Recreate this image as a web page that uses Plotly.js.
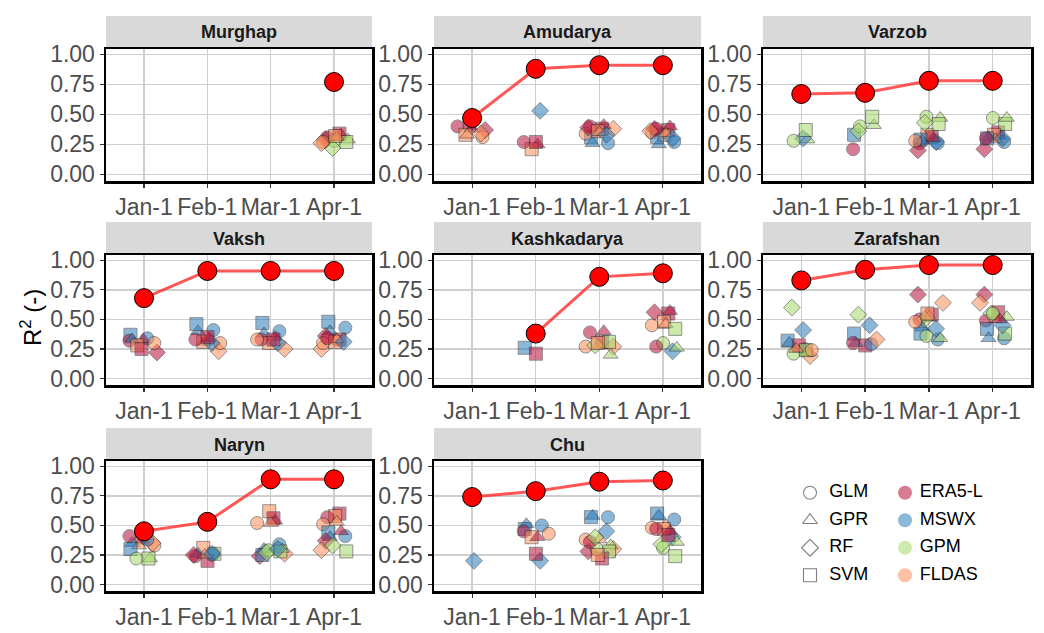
<!DOCTYPE html>
<html>
<head>
<meta charset="utf-8">
<script src="https://cdn.plot.ly/plotly-3.0.1.min.js"></script>
<style>html,body{margin:0;padding:0;background:#fff;}#chart{width:1044px;height:633px;}</style>
</head>
<body>
<div id="chart"></div>
<script>
// ---------------- DATA ----------------
const months = ["Jan-1", "Feb-1", "Mar-1", "Apr-1"];
const models = ["GLM", "GPR", "RF", "SVM"];
const products = ["ERA5-L", "MSWX", "GPM", "FLDAS"];
const basins = ["Murghap", "Amudarya", "Varzob", "Vaksh", "Kashkadarya", "Zarafshan", "Naryn", "Chu"];

// best R2 per month (red line)
const best_Murghap     = [null, null, null, 0.77];
const best_Amudarya    = [0.47, 0.88, 0.91, 0.91];
const best_Varzob      = [0.67, 0.68, 0.78, 0.78];
const best_Vaksh       = [0.68, 0.91, 0.91, 0.91];
const best_Kashkadarya = [null, 0.38, 0.86, 0.89];
const best_Zarafshan   = [0.83, 0.92, 0.96, 0.96];
const best_Naryn       = [0.45, 0.53, 0.89, 0.89];
const best_Chu         = [0.74, 0.79, 0.87, 0.88];

// individual model/product results: [month, model, product, R2]
const pts_Murghap = [
  ["Apr-1","GLM","ERA5-L",0.31],["Apr-1","SVM","ERA5-L",0.34],["Apr-1","GPR","ERA5-L",0.33],["Apr-1","RF","ERA5-L",0.29],
  ["Apr-1","GLM","GPM",0.28],["Apr-1","RF","GPM",0.22],["Apr-1","GPR","GPM",0.29],["Apr-1","SVM","GPM",0.27],
  ["Apr-1","GLM","FLDAS",0.27],["Apr-1","GPR","FLDAS",0.31],["Apr-1","RF","FLDAS",0.26],["Apr-1","SVM","FLDAS",0.32]
];
const pts_Amudarya = [
  ["Jan-1","GPR","ERA5-L",0.38],["Jan-1","GLM","ERA5-L",0.40],["Jan-1","SVM","ERA5-L",0.43],["Jan-1","RF","ERA5-L",0.37],
  ["Jan-1","SVM","FLDAS",0.33],["Jan-1","GLM","FLDAS",0.31],["Jan-1","GPR","FLDAS",0.33],["Jan-1","RF","FLDAS",0.34],
  ["Feb-1","RF","MSWX",0.53],["Feb-1","GPR","ERA5-L",0.25],["Feb-1","SVM","FLDAS",0.21],["Feb-1","GLM","ERA5-L",0.27],["Feb-1","SVM","ERA5-L",0.27],
  ["Mar-1","SVM","ERA5-L",0.38],["Mar-1","SVM","MSWX",0.31],["Mar-1","GLM","MSWX",0.26],["Mar-1","GPR","MSWX",0.26],
  ["Mar-1","GLM","FLDAS",0.34],["Mar-1","RF","FLDAS",0.38],["Mar-1","GLM","ERA5-L",0.40],["Mar-1","GPR","ERA5-L",0.41],
  ["Mar-1","RF","ERA5-L",0.39],["Mar-1","SVM","FLDAS",0.36],["Mar-1","GPR","FLDAS",0.35],["Mar-1","RF","MSWX",0.33],
  ["Apr-1","SVM","ERA5-L",0.37],["Apr-1","GLM","FLDAS",0.35],["Apr-1","SVM","FLDAS",0.33],["Apr-1","GPR","MSWX",0.25],
  ["Apr-1","GLM","MSWX",0.27],["Apr-1","SVM","MSWX",0.31],["Apr-1","RF","ERA5-L",0.38],["Apr-1","GPR","ERA5-L",0.40],
  ["Apr-1","GLM","ERA5-L",0.38],["Apr-1","RF","FLDAS",0.36],["Apr-1","GPR","FLDAS",0.34],["Apr-1","RF","MSWX",0.30]
];
const pts_Varzob = [
  ["Jan-1","GPR","GPM",0.29],["Jan-1","RF","MSWX",0.30],["Jan-1","GLM","GPM",0.28],["Jan-1","SVM","GPM",0.37],
  ["Feb-1","SVM","MSWX",0.33],["Feb-1","GLM","ERA5-L",0.21],["Feb-1","GPR","GPM",0.41],["Feb-1","GLM","GPM",0.40],
  ["Feb-1","SVM","GPM",0.48],["Feb-1","RF","GPM",0.36],
  ["Mar-1","GLM","ERA5-L",0.26],["Mar-1","RF","ERA5-L",0.20],["Mar-1","SVM","FLDAS",0.33],["Mar-1","SVM","ERA5-L",0.31],
  ["Mar-1","SVM","MSWX",0.29],["Mar-1","GLM","MSWX",0.26],["Mar-1","GPR","MSWX",0.28],["Mar-1","GLM","FLDAS",0.28],
  ["Mar-1","GPR","GPM",0.47],["Mar-1","GLM","GPM",0.48],["Mar-1","SVM","GPM",0.42],["Mar-1","RF","GPM",0.43],
  ["Mar-1","RF","MSWX",0.27],["Mar-1","GPR","ERA5-L",0.30],
  ["Apr-1","SVM","ERA5-L",0.35],["Apr-1","GPR","ERA5-L",0.32],["Apr-1","SVM","GPM",0.42],["Apr-1","GPR","GPM",0.47],
  ["Apr-1","GLM","GPM",0.47],["Apr-1","SVM","FLDAS",0.33],["Apr-1","GLM","MSWX",0.27],["Apr-1","GPR","MSWX",0.31],
  ["Apr-1","RF","ERA5-L",0.21],["Apr-1","GPR","FLDAS",0.29],["Apr-1","RF","MSWX",0.30],["Apr-1","SVM","MSWX",0.30],
  ["Apr-1","GLM","ERA5-L",0.30]
];
const pts_Vaksh = [
  ["Jan-1","SVM","MSWX",0.37],["Jan-1","GLM","MSWX",0.34],["Jan-1","GPR","ERA5-L",0.33],["Jan-1","GLM","ERA5-L",0.32],
  ["Jan-1","GPR","MSWX",0.33],["Jan-1","SVM","FLDAS",0.28],["Jan-1","RF","ERA5-L",0.22],["Jan-1","SVM","ERA5-L",0.25],
  ["Jan-1","GLM","FLDAS",0.30],
  ["Feb-1","GPR","MSWX",0.40],["Feb-1","SVM","MSWX",0.46],["Feb-1","GLM","MSWX",0.41],["Feb-1","RF","FLDAS",0.23],
  ["Feb-1","GLM","FLDAS",0.30],["Feb-1","GPR","FLDAS",0.31],["Feb-1","SVM","FLDAS",0.31],["Feb-1","GPR","ERA5-L",0.34],
  ["Feb-1","RF","MSWX",0.30],["Feb-1","SVM","ERA5-L",0.35],["Feb-1","GLM","ERA5-L",0.33],
  ["Mar-1","SVM","MSWX",0.47],["Mar-1","GLM","MSWX",0.40],["Mar-1","GPR","MSWX",0.38],["Mar-1","GPR","ERA5-L",0.35],
  ["Mar-1","SVM","FLDAS",0.30],["Mar-1","RF","FLDAS",0.25],["Mar-1","RF","MSWX",0.30],["Mar-1","GLM","ERA5-L",0.33],
  ["Mar-1","SVM","ERA5-L",0.33],["Mar-1","GLM","FLDAS",0.33],
  ["Apr-1","SVM","MSWX",0.48],["Apr-1","GLM","MSWX",0.43],["Apr-1","GPR","MSWX",0.40],["Apr-1","RF","ERA5-L",0.36],
  ["Apr-1","SVM","ERA5-L",0.33],["Apr-1","RF","FLDAS",0.25],["Apr-1","GLM","FLDAS",0.30],["Apr-1","SVM","FLDAS",0.31],
  ["Apr-1","GPR","FLDAS",0.33],["Apr-1","RF","MSWX",0.31],["Apr-1","GLM","ERA5-L",0.34]
];
const pts_Kashkadarya = [
  ["Feb-1","SVM","MSWX",0.26],["Feb-1","SVM","ERA5-L",0.21],
  ["Mar-1","GPR","ERA5-L",0.40],["Mar-1","GLM","ERA5-L",0.39],["Mar-1","SVM","ERA5-L",0.31],["Mar-1","GPR","FLDAS",0.28],
  ["Mar-1","RF","FLDAS",0.27],["Mar-1","GLM","FLDAS",0.27],["Mar-1","SVM","GPM",0.31],["Mar-1","GPR","GPM",0.20],
  ["Mar-1","RF","GPM",0.28],["Mar-1","SVM","FLDAS",0.30],
  ["Apr-1","SVM","ERA5-L",0.55],["Apr-1","GPR","ERA5-L",0.57],["Apr-1","RF","ERA5-L",0.56],["Apr-1","GLM","FLDAS",0.45],
  ["Apr-1","SVM","FLDAS",0.48],["Apr-1","GPR","FLDAS",0.46],["Apr-1","GLM","GPM",0.30],["Apr-1","RF","MSWX",0.23],
  ["Apr-1","SVM","GPM",0.42],["Apr-1","GLM","ERA5-L",0.27],["Apr-1","GPR","GPM",0.26]
];
const pts_Zarafshan = [
  ["Jan-1","RF","GPM",0.60],["Jan-1","RF","MSWX",0.41],["Jan-1","SVM","MSWX",0.32],["Jan-1","GPR","MSWX",0.30],
  ["Jan-1","GLM","GPM",0.21],["Jan-1","GLM","MSWX",0.25],["Jan-1","SVM","ERA5-L",0.28],["Jan-1","RF","FLDAS",0.19],
  ["Jan-1","GPR","GPM",0.22],["Jan-1","SVM","GPM",0.24],["Jan-1","GLM","FLDAS",0.24],["Jan-1","GPR","FLDAS",0.25],
  ["Feb-1","RF","GPM",0.54],["Feb-1","RF","MSWX",0.45],["Feb-1","SVM","MSWX",0.38],["Feb-1","SVM","ERA5-L",0.28],
  ["Feb-1","GLM","MSWX",0.29],["Feb-1","GPR","MSWX",0.30],["Feb-1","RF","FLDAS",0.33],["Feb-1","GLM","ERA5-L",0.30],
  ["Mar-1","RF","ERA5-L",0.71],["Mar-1","RF","FLDAS",0.64],["Mar-1","SVM","ERA5-L",0.54],["Mar-1","GLM","ERA5-L",0.50],
  ["Mar-1","GPR","FLDAS",0.52],["Mar-1","RF","GPM",0.50],["Mar-1","GPR","MSWX",0.43],["Mar-1","SVM","MSWX",0.38],
  ["Mar-1","GLM","MSWX",0.33],["Mar-1","GPR","GPM",0.34],["Mar-1","GLM","GPM",0.36],["Mar-1","GLM","FLDAS",0.48],
  ["Mar-1","SVM","FLDAS",0.55],["Mar-1","RF","MSWX",0.42],
  ["Apr-1","RF","ERA5-L",0.71],["Apr-1","RF","FLDAS",0.64],["Apr-1","SVM","ERA5-L",0.56],["Apr-1","GLM","ERA5-L",0.49],
  ["Apr-1","GPR","FLDAS",0.50],["Apr-1","RF","GPM",0.55],["Apr-1","GLM","GPM",0.55],["Apr-1","GPR","GPM",0.52],
  ["Apr-1","SVM","MSWX",0.42],["Apr-1","GPR","MSWX",0.34],["Apr-1","GLM","MSWX",0.34],["Apr-1","SVM","GPM",0.38],
  ["Apr-1","RF","MSWX",0.45],["Apr-1","GPR","ERA5-L",0.50]
];
const pts_Naryn = [
  ["Jan-1","GPR","ERA5-L",0.37],["Jan-1","GPR","MSWX",0.35],["Jan-1","GLM","ERA5-L",0.41],["Jan-1","SVM","ERA5-L",0.41],
  ["Jan-1","GLM","FLDAS",0.33],["Jan-1","GPR","FLDAS",0.33],["Jan-1","SVM","MSWX",0.30],["Jan-1","RF","FLDAS",0.35],
  ["Jan-1","GPR","GPM",0.22],["Jan-1","GLM","GPM",0.22],["Jan-1","SVM","GPM",0.22],["Jan-1","GLM","MSWX",0.38],
  ["Feb-1","SVM","FLDAS",0.31],["Feb-1","SVM","GPM",0.26],["Feb-1","GLM","ERA5-L",0.24],["Feb-1","SVM","ERA5-L",0.20],
  ["Feb-1","GLM","MSWX",0.26],["Feb-1","GPR","MSWX",0.26],["Feb-1","GPR","FLDAS",0.25],["Feb-1","RF","ERA5-L",0.25],
  ["Feb-1","RF","MSWX",0.26],
  ["Mar-1","SVM","FLDAS",0.62],["Mar-1","SVM","ERA5-L",0.56],["Mar-1","GPR","ERA5-L",0.54],["Mar-1","GLM","FLDAS",0.52],
  ["Mar-1","GPR","FLDAS",0.52],["Mar-1","GLM","MSWX",0.34],["Mar-1","GPR","MSWX",0.30],["Mar-1","RF","ERA5-L",0.24],
  ["Mar-1","SVM","MSWX",0.25],["Mar-1","RF","FLDAS",0.26],["Mar-1","GLM","GPM",0.29],["Mar-1","GPR","GPM",0.30],
  ["Mar-1","RF","GPM",0.27],["Mar-1","SVM","GPM",0.28],["Mar-1","RF","MSWX",0.30],
  ["Apr-1","SVM","ERA5-L",0.60],["Apr-1","SVM","FLDAS",0.58],["Apr-1","GLM","ERA5-L",0.57],["Apr-1","GPR","FLDAS",0.53],
  ["Apr-1","GLM","FLDAS",0.51],["Apr-1","SVM","MSWX",0.44],["Apr-1","GPR","MSWX",0.40],["Apr-1","GLM","MSWX",0.41],
  ["Apr-1","RF","ERA5-L",0.37],["Apr-1","GPR","ERA5-L",0.45],["Apr-1","SVM","GPM",0.28],["Apr-1","RF","FLDAS",0.29],
  ["Apr-1","RF","GPM",0.33]
];
const pts_Chu = [
  ["Jan-1","RF","MSWX",0.20],
  ["Feb-1","GLM","MSWX",0.50],["Feb-1","GPR","MSWX",0.51],["Feb-1","SVM","MSWX",0.47],["Feb-1","GLM","ERA5-L",0.45],
  ["Feb-1","SVM","FLDAS",0.40],["Feb-1","GPR","ERA5-L",0.40],["Feb-1","GLM","FLDAS",0.43],["Feb-1","RF","MSWX",0.20],
  ["Feb-1","SVM","ERA5-L",0.26],
  ["Mar-1","GLM","MSWX",0.57],["Mar-1","GPR","MSWX",0.58],["Mar-1","SVM","MSWX",0.57],["Mar-1","RF","MSWX",0.45],
  ["Mar-1","GPR","FLDAS",0.38],["Mar-1","RF","ERA5-L",0.28],["Mar-1","RF","FLDAS",0.30],["Mar-1","GPR","GPM",0.33],
  ["Mar-1","GLM","FLDAS",0.38],["Mar-1","SVM","GPM",0.28],["Mar-1","SVM","ERA5-L",0.22],["Mar-1","GLM","GPM",0.30],
  ["Mar-1","SVM","FLDAS",0.25],["Mar-1","GLM","ERA5-L",0.36],["Mar-1","RF","GPM",0.40],
  ["Apr-1","GPR","FLDAS",0.50],["Apr-1","SVM","FLDAS",0.47],["Apr-1","GLM","FLDAS",0.48],["Apr-1","RF","MSWX",0.40],
  ["Apr-1","GLM","ERA5-L",0.47],["Apr-1","GPR","ERA5-L",0.45],["Apr-1","SVM","MSWX",0.60],["Apr-1","GPR","MSWX",0.58],
  ["Apr-1","GLM","GPM",0.31],["Apr-1","SVM","GPM",0.24],["Apr-1","GPR","GPM",0.36],["Apr-1","RF","GPM",0.34],
  ["Apr-1","GLM","MSWX",0.55],["Apr-1","SVM","ERA5-L",0.42]
];

const bestByBasin = {Murghap: best_Murghap, Amudarya: best_Amudarya, Varzob: best_Varzob, Vaksh: best_Vaksh,
  Kashkadarya: best_Kashkadarya, Zarafshan: best_Zarafshan, Naryn: best_Naryn, Chu: best_Chu};
const ptsByBasin = {Murghap: pts_Murghap, Amudarya: pts_Amudarya, Varzob: pts_Varzob, Vaksh: pts_Vaksh,
  Kashkadarya: pts_Kashkadarya, Zarafshan: pts_Zarafshan, Naryn: pts_Naryn, Chu: pts_Chu};

// ---------------- STYLE ----------------
const FONT = "Liberation Sans, Arial, sans-serif";
const modelSymbol = {GLM: "circle", GPR: "triangle-up", RF: "diamond", SVM: "square"};
const modelSymbolOpen = {GLM: "circle-open", GPR: "triangle-up-open", RF: "diamond-open", SVM: "square-open"};
const productColor = {"ERA5-L": "#B8103A", "MSWX": "#2B7BBA", "GPM": "#A6D96A", "FLDAS": "#FC8D59"};

const W = 1044, H = 633;
const colPx = [[106, 372], [434, 701], [763, 1031]];
const rowPx = [[49, 181], [255, 385], [461, 591]];
const stripPx = [[16, 49], [222, 255], [428, 461]];
const fx = p => p / W;
const fy = p => 1 - p / H;

function jitter(model, product, month) {
  const k = models.indexOf(model) * 4 + products.indexOf(product) + months.indexOf(month) * 5;
  return (((k * 0.6180339887) % 1) - 0.5) * 0.46;
}

const traces = [];
const layout = {
  width: W, height: H, autosize: false,
  margin: {l: 0, r: 0, t: 0, b: 0},
  paper_bgcolor: "#fff", plot_bgcolor: "#fff",
  showlegend: false,
  font: {family: FONT},
  shapes: [], annotations: []
};

basins.forEach((b, i) => {
  const r = Math.floor(i / 3), c = i % 3;
  const k = i === 0 ? "" : String(i + 1);
  const xa = "x" + k, ya = "y" + k;
  layout["xaxis" + k] = {
    domain: [fx(colPx[c][0]), fx(colPx[c][1])], anchor: ya,
    range: [0.4, 4.6], tickmode: "array", tickvals: [1, 2, 3, 4], ticktext: months,
    showgrid: true, gridcolor: "#CFCFCF", gridwidth: 1.3, zeroline: false,
    showline: true, mirror: true, linecolor: "#000", linewidth: 2.5,
    ticks: "outside", ticklen: 4, tickwidth: 1.2, tickcolor: "#333",
    tickfont: {size: 23, color: "#4D4D4D", family: FONT}, fixedrange: true
  };
  layout["yaxis" + k] = {
    domain: [fy(rowPx[r][1]), fy(rowPx[r][0])], anchor: xa,
    range: [-0.055, 1.045], tickmode: "array", tickvals: [0, 0.25, 0.5, 0.75, 1],
    ticktext: ["0.00", "0.25", "0.50", "0.75", "1.00"],
    showgrid: true, gridcolor: "#CFCFCF", gridwidth: 1.3, zeroline: false,
    showline: true, mirror: true, linecolor: "#000", linewidth: 2.5,
    ticks: "outside", ticklen: 4, tickwidth: 1.2, tickcolor: "#333",
    tickfont: {size: 23, color: "#4D4D4D", family: FONT}, fixedrange: true
  };
  // strip
  layout.shapes.push({type: "rect", xref: "paper", yref: "paper",
    x0: fx(colPx[c][0]), x1: fx(colPx[c][1]), y0: fy(stripPx[r][1]), y1: fy(stripPx[r][0]),
    fillcolor: "#D9D9D9", line: {width: 0}, layer: "below"});
  layout.annotations.push({xref: "paper", yref: "paper",
    x: fx((colPx[c][0] + colPx[c][1]) / 2), y: fy((stripPx[r][0] + stripPx[r][1]) / 2),
    text: "<b>" + b + "</b>", showarrow: false, xanchor: "center", yanchor: "middle",
    font: {size: 18, color: "#1A1A1A", family: FONT}});

  // points
  const pts = ptsByBasin[b];
  traces.push({
    type: "scatter", mode: "markers", xaxis: xa, yaxis: ya, hoverinfo: "skip",
    x: pts.map(p => months.indexOf(p[0]) + 1 + jitter(p[1], p[2], p[0])),
    y: pts.map(p => p[3]),
    marker: {
      symbol: pts.map(p => modelSymbol[p[1]]),
      color: pts.map(p => productColor[p[2]]),
      size: 13, opacity: 0.55,
      line: {color: "#222", width: 0.9}
    }
  });
  // best line
  const best = bestByBasin[b];
  traces.push({
    type: "scatter", mode: "lines", xaxis: xa, yaxis: ya, hoverinfo: "skip",
    x: months.map((m, j) => j + 1), y: best, connectgaps: false,
    line: {color: "rgba(255,30,30,0.75)", width: 3}
  });
  traces.push({
    type: "scatter", mode: "markers", xaxis: xa, yaxis: ya, hoverinfo: "skip",
    x: months.map((m, j) => j + 1), y: best,
    marker: {color: "#FF0000", size: 19, line: {color: "#000", width: 1}}
  });
});

// legend panel (axis 9)
layout.xaxis9 = {domain: [fx(790), fx(1040)], anchor: "y9", range: [0, 250], visible: false, fixedrange: true};
layout.yaxis9 = {domain: [fy(589), fy(479)], anchor: "x9", range: [3.5, -0.5], visible: false, fixedrange: true};
const legColX = [20, 115];
traces.push({
  type: "scatter", mode: "markers+text", xaxis: "x9", yaxis: "y9", hoverinfo: "skip",
  x: models.map(() => legColX[0]), y: models.map((m, j) => j),
  text: models.map(m => "  " + m), textposition: "middle right",
  textfont: {size: 18, color: "#000", family: FONT},
  marker: {symbol: models.map(m => modelSymbolOpen[m]), size: 13, color: "#7F7F7F", line: {width: 1.1}}
});
traces.push({
  type: "scatter", mode: "markers+text", xaxis: "x9", yaxis: "y9", hoverinfo: "skip",
  x: products.map(() => legColX[1]), y: products.map((p, j) => j),
  text: products.map(p => " " + p), textposition: "middle right",
  textfont: {size: 18, color: "#000", family: FONT},
  marker: {symbol: "circle", size: 14, color: products.map(p => productColor[p]), opacity: 0.55, line: {width: 0}}
});

// y title
layout.annotations.push({xref: "paper", yref: "paper", x: fx(31), y: fy(318),
  text: "R<sup>2</sup> (-)", showarrow: false, textangle: -90, xanchor: "center", yanchor: "middle",
  font: {size: 24, color: "#000", family: FONT}});

Plotly.newPlot("chart", traces, layout, {displayModeBar: false, staticPlot: true});
</script>
</body>
</html>
